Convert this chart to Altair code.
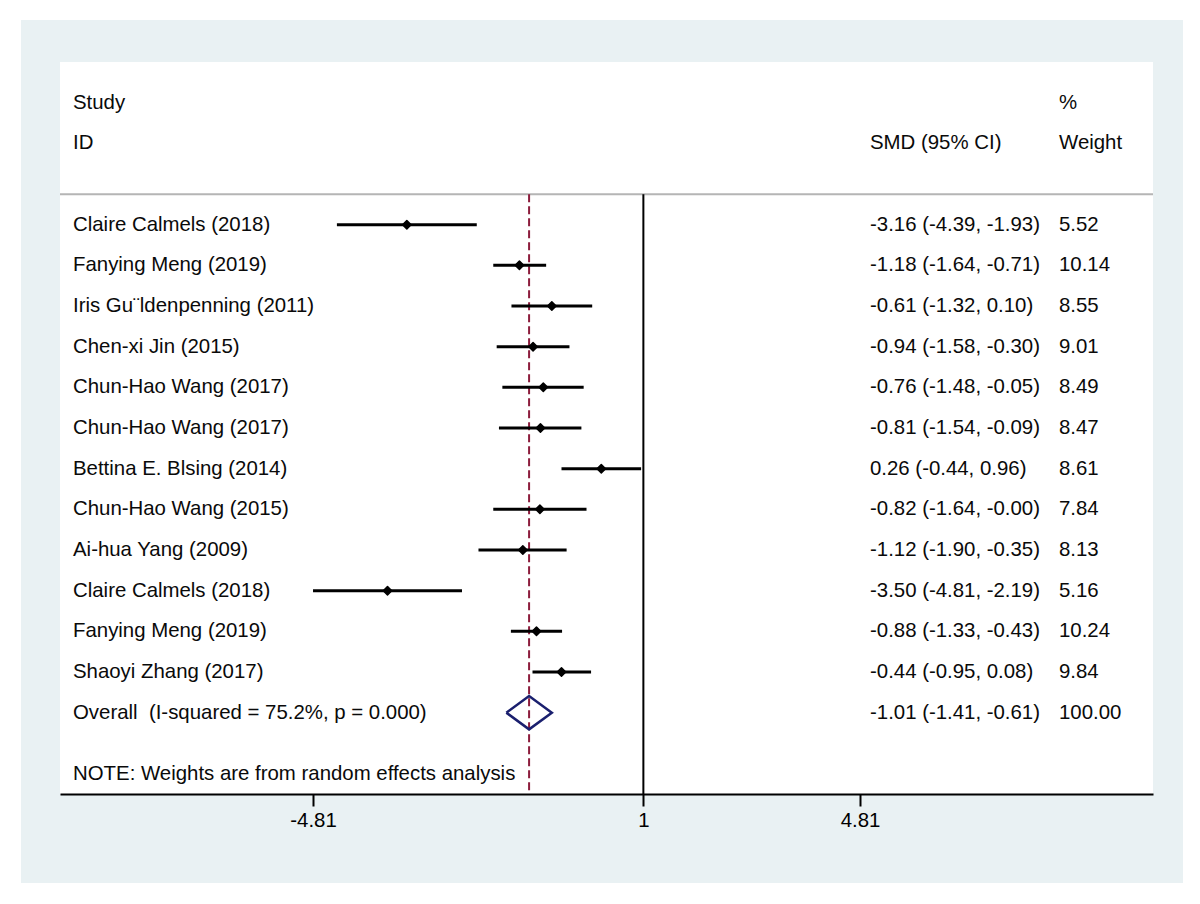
import altair as alt
import pandas as pd

# ---------------- data ----------------
studies = [
    "Claire Calmels (2018)",
    "Fanying Meng (2019)",
    "Iris Gu\u00a8ldenpenning (2011)",
    "Chen-xi Jin (2015)",
    "Chun-Hao Wang (2017)",
    "Chun-Hao Wang (2017)",
    "Bettina E. Blsing (2014)",
    "Chun-Hao Wang (2015)",
    "Ai-hua Yang (2009)",
    "Claire Calmels (2018)",
    "Fanying Meng (2019)",
    "Shaoyi Zhang (2017)",
]
smd = [-3.16, -1.18, -0.61, -0.94, -0.76, -0.81, 0.26, -0.82, -1.12, -3.50, -0.88, -0.44]
ci_low = [-4.39, -1.64, -1.32, -1.58, -1.48, -1.54, -0.44, -1.64, -1.90, -4.81, -1.33, -0.95]
ci_high = [-1.93, -0.71, 0.10, -0.30, -0.05, -0.09, 0.96, -0.00, -0.35, -2.19, -0.43, 0.08]
weights = [5.52, 10.14, 8.55, 9.01, 8.49, 8.47, 8.61, 7.84, 8.13, 5.16, 10.24, 9.84]

overall_label = "Overall\u00a0 (I-squared = 75.2%, p = 0.000)"
overall_smd = -1.01
overall_low = -1.41
overall_high = -0.61
overall_weight = 100.00

note_text = "NOTE: Weights are from random effects analysis"
tick_values = [-4.81, 1, 4.81]
null_line = 1

# ---------------- tables ----------------
n = len(studies)
rows = list(range(1, n + 1))
overall_row = n + 1
note_row = n + 2.5

df = pd.DataFrame({
    "row": rows,
    "study": studies,
    "smd": smd,
    "lo": ci_low,
    "hi": ci_high,
    "ci_text": [f"{e:.2f} ({l:.2f}, {h:.2f})" for e, l, h in zip(smd, ci_low, ci_high)],
    "w_text": [f"{w:.2f}" for w in weights],
})
df_overall = pd.DataFrame({
    "row": [overall_row],
    "study": [overall_label],
    "ci_text": [f"{overall_smd:.2f} ({overall_low:.2f}, {overall_high:.2f})"],
    "w_text": [f"{overall_weight:.2f}"],
})
labels_df = pd.concat([df[["row", "study", "ci_text", "w_text"]], df_overall], ignore_index=True)

half_h = 0.41
diamond = pd.DataFrame({
    "x": [overall_low, overall_smd, overall_high, overall_smd, overall_low],
    "y": [overall_row, overall_row - half_h, overall_row, overall_row + half_h, overall_row],
    "o": [0, 1, 2, 3, 4],
})

header_left = pd.DataFrame({"row": [-2, -1], "t": ["Study", "ID"]})
header_mid = pd.DataFrame({"row": [-1], "t": ["SMD (95% CI)"]})
header_right = pd.DataFrame({"row": [-2, -1], "t": ["%", "Weight"]})
note_df = pd.DataFrame({"row": [note_row], "t": [note_text]})

vlines = pd.DataFrame({"x": [null_line], "y": [0.25], "y2": [15]})
dline = pd.DataFrame({"x": [overall_smd], "y": [0.25], "y2": [15]})

# ---------------- scales ----------------
W, H = 1093, 732
FONT = "Liberation Sans"
FS = 20.4
xscale = alt.Scale(domain=[-9.26, 9.963], nice=False, zero=False)
yscale = alt.Scale(domain=[-3, 15], reverse=True, nice=False, zero=False)
xaxis = alt.Axis(
    values=tick_values, labelExpr="datum.value + ''", title=None, grid=False,
    domainColor="black", domainWidth=2, tickColor="black", tickWidth=2, tickSize=12,
    labelFontSize=FS, labelFont=FONT, labelColor="black", labelPadding=4,
    labelFlush=False, zindex=1,
)


def X(f):
    return alt.X(f, type="quantitative", scale=xscale, axis=xaxis)


def Y(f):
    return alt.Y(f, type="quantitative", scale=yscale, axis=None)


base_one = alt.Chart(pd.DataFrame({"a": [0]}))

bg = base_one.mark_rect(color="#e9f1f3").encode(
    x=alt.value(-39), x2=alt.value(1123), y=alt.value(-42), y2=alt.value(821))
panel = base_one.mark_rect(color="white").encode(
    x=alt.value(0), x2=alt.value(W), y=alt.value(0), y2=alt.value(H))
header_line = alt.Chart(pd.DataFrame({"y": [0.25]})).mark_rule(
    color="#b5b5b5", strokeWidth=2).encode(x=alt.value(0), x2=alt.value(W), y=Y("y"))

null_rule = alt.Chart(vlines).mark_rule(color="black", strokeWidth=2).encode(
    x=X("x"), y=Y("y"), y2="y2")
dash_rule = alt.Chart(dline).mark_rule(
    color="#8c1c3c", strokeWidth=2, strokeDash=[8, 4]).encode(
    x=X("x"), y=Y("y"), y2="y2")

ci = alt.Chart(df).mark_rule(color="black", strokeWidth=3).encode(
    x=X("lo"), x2="hi", y=Y("row"))
pts = alt.Chart(df).mark_point(shape="diamond", filled=True, fill="black",
                               stroke="black", strokeWidth=1.5, strokeJoin="round",
                               size=72, opacity=1).encode(x=X("smd"), y=Y("row"))
dia = alt.Chart(diamond).mark_line(color="#1a1f6e", strokeWidth=2.5,
                                   strokeJoin="miter").encode(
    x=X("x"), y=Y("y"), order="o")


def txt(data, field, xpix):
    return alt.Chart(data).mark_text(
        align="left", baseline="middle", font=FONT, fontSize=FS, color="#0a0a0a"
    ).encode(x=alt.value(xpix), y=Y("row"), text=field)


t_study = txt(labels_df, "study", 13)
t_ci = txt(labels_df, "ci_text", 810)
t_w = txt(labels_df, "w_text", 999)
t_h1 = txt(header_left, "t", 13)
t_h2 = txt(header_mid, "t", 810)
t_h3 = txt(header_right, "t", 999)
t_note = txt(note_df, "t", 13)

chart = alt.layer(
    bg, panel, header_line, null_rule, dash_rule, ci, pts, dia,
    t_study, t_ci, t_w, t_h1, t_h2, t_h3, t_note,
).properties(
    width=W, height=H,
    autosize=alt.AutoSizeParams(type="none"),
    padding={"left": 52, "top": 54, "right": 39, "bottom": 100},
).configure(background="white").configure_view(stroke=None)

chart.save("out.html", embed_options={"renderer": "svg", "actions": False})
